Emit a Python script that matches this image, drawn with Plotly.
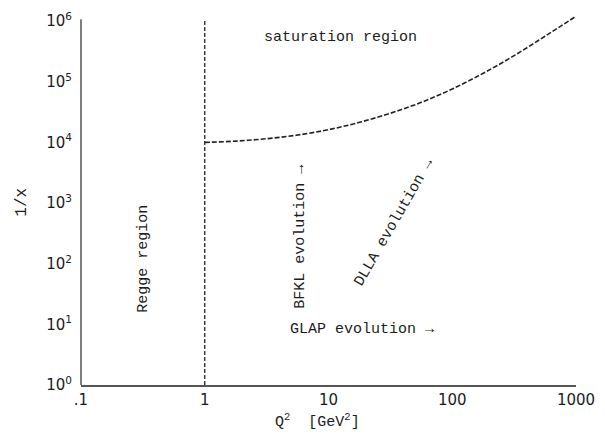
import plotly.graph_objects as go

# ---- data ----
x_tick_vals = [0.1, 1, 10, 100, 1000]
x_tick_text = [".1", "1", "10", "100", "1000"]
y_tick_vals = [1, 10, 100, 1000, 1e4, 1e5, 1e6]
y_tick_text = ["10<sup>0</sup>", "10<sup>1</sup>", "10<sup>2</sup>", "10<sup>3</sup>",
               "10<sup>4</sup>", "10<sup>5</sup>", "10<sup>6</sup>"]

# Regge / perturbative boundary at Q^2 = 1 GeV^2
regge_q2 = [1, 1]
regge_invx = [1, 1.07e6]

# saturation boundary curve
sat_q2 = [1, 1.78, 3.16, 5.62, 10, 17.8, 31.6, 56.2, 100, 178, 316, 562, 1000]
sat_invx = [1.0e4, 1.05e4, 1.15e4, 1.32e4, 1.62e4, 2.14e4, 3.02e4, 4.57e4,
            7.59e4, 1.38e5, 2.69e5, 5.62e5, 1.2e6]

TXT = "#1c1c1c"
MONO = "Liberation Mono"
SANS = "DejaVu Sans"

fig = go.Figure()
fig.add_trace(go.Scatter(x=regge_q2, y=regge_invx, mode="lines",
                         line=dict(color="#222", width=1.3, dash="4px,2px"),
                         showlegend=False, hoverinfo="skip"))
fig.add_trace(go.Scatter(x=sat_q2, y=sat_invx, mode="lines", line_shape="spline",
                         line=dict(color="#222", width=1.6, dash="5px,2px"),
                         showlegend=False, hoverinfo="skip"))

fig.update_layout(
    width=605, height=435,
    margin=dict(l=81, r=20, t=10, b=50),
    paper_bgcolor="white", plot_bgcolor="white",
    showlegend=False,
    font=dict(family=SANS, size=15, color=TXT),
    xaxis=dict(type="log", range=[-1, 3], tickvals=x_tick_vals, ticktext=x_tick_text,
               showgrid=False, zeroline=False, showline=True, linecolor="#555",
               linewidth=1.5, ticks="", tickfont=dict(family=SANS, size=15, color=TXT)),
    yaxis=dict(type="log", range=[0, 6.1], tickvals=y_tick_vals, ticktext=y_tick_text,
               showgrid=False, zeroline=False, showline=False, ticks="",
               ticklabelstandoff=8,
               tickfont=dict(family=SANS, size=15, color=TXT)),
)

# left axis line (ends just above 10^6)
fig.add_shape(type="line", xref="paper", yref="y", x0=0, x1=0, y0=1, y1=1.07e6,
              line=dict(color="#555", width=1.5))

def ann(text, x, y, angle=0, size=15, family=MONO):
    fig.add_annotation(text=text, xref="paper", yref="paper", x=x, y=y,
                       showarrow=False, textangle=angle,
                       font=dict(family=family, size=size, color=TXT),
                       xanchor="center", yanchor="middle")

ann("saturation region", 0.525, 0.939)
ann("Regge region", 0.127, 0.341, angle=-90)
ann("BFKL evolution \u2192", 0.442, 0.40, angle=-90)
ann("DLLA evolution \u2192", 0.634, 0.438, angle=-60)
ann("GLAP evolution \u2192", 0.568, 0.149)
ann("1/x", -0.121, 0.493, angle=-90, size=16)
ann("Q<sup>2</sup>  [GeV<sup>2</sup>]", 0.478, -0.098, size=15)

fig.write_html("out.html")
